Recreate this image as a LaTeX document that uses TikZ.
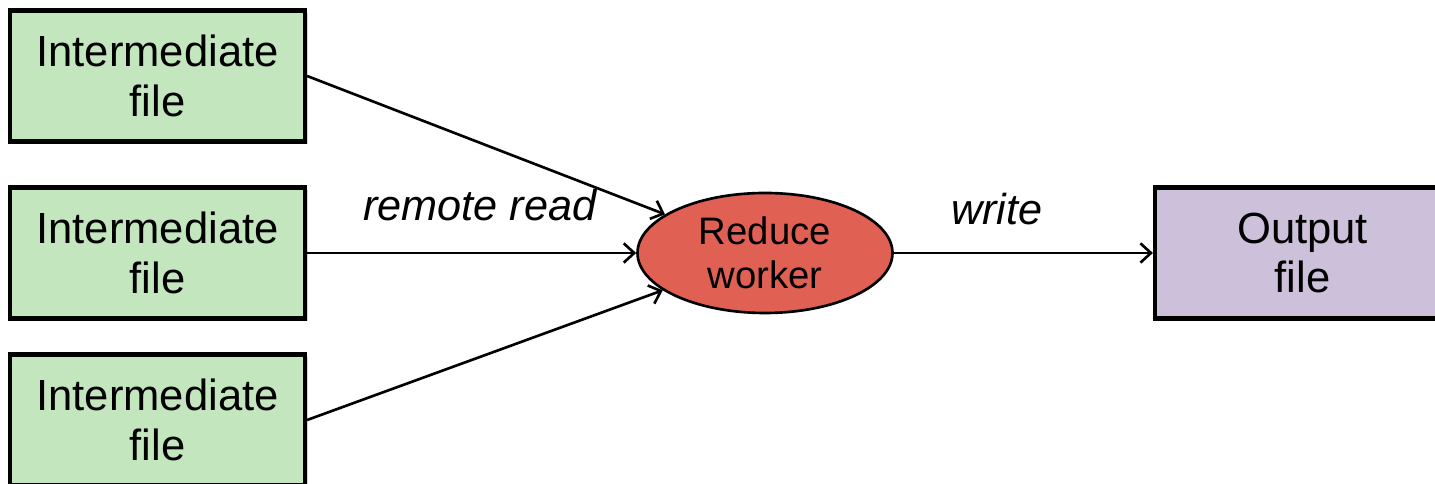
\documentclass[tikz,border=0pt]{standalone}
\usepackage{fontspec}
\setmainfont{Liberation Sans}
\usetikzlibrary{arrows.meta,shapes.geometric,shadows}
\definecolor{filegreen}{RGB}{195,230,190}
\definecolor{workerred}{RGB}{224,96,84}
\definecolor{outpurple}{RGB}{204,192,218}
\tikzset{
  filebox/.style={draw=black,line width=2.4pt,minimum width=5.9cm,minimum height=2.62cm,
    align=center,font=\fontsize{24.8}{28.4}\selectfont,
    drop shadow={shadow xshift=0.05cm,shadow yshift=-0.05cm,opacity=0.35}},
  worker/.style={ellipse,draw=black,line width=1.5pt,fill=workerred,minimum width=5.1cm,
    minimum height=2.4cm,inner sep=0pt,align=center,font=\fontsize{21.8}{25}\selectfont},
  edgelabel/.style={font=\fontsize{24.6}{28}\selectfont\itshape}
}
\begin{document}
\begin{tikzpicture}[>={Straight Barb[length=6pt,width=11pt]}]
      \useasboundingbox (0,0) rectangle (28.7,9.68);
      \draw
        (3.15,8.16) node[filebox,fill=filegreen] (in1){Intermediate\\file}
        (3.15,4.62) node[filebox,fill=filegreen] (in2){Intermediate\\file}
        (3.15,1.28) node[filebox,fill=filegreen] (in3){Intermediate\\file}
        (15.3,4.62) node[worker] (red){Reduce\\worker}
        (26.05,4.62) node[filebox,fill=outpurple] (out){Output\\file};
      \draw
        (9.6,5.58) node[edgelabel] (rr){remote read}
        (19.94,5.5) node[edgelabel] (wr){write};
      \begin{scope}[->,line width=1.5pt]
        \draw (in1.east) to (red);
        \draw (in2.east) to (red);
        \draw (in3.east) to (red);
        \draw (red) to (out);
      \end{scope}
    \end{tikzpicture}
\end{document}
